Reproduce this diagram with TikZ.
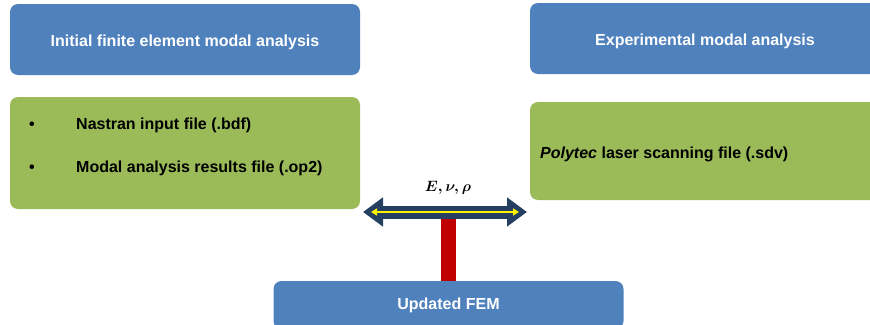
\documentclass[tikz,border=0pt]{standalone}
\usepackage{graphicx}
\usepackage{fontspec}
\setmainfont{Liberation Sans}
\usetikzlibrary{arrows.meta}
\definecolor{boxblue}{HTML}{4F81BD}
\definecolor{boxgreen}{HTML}{9BBB59}
\definecolor{barred}{HTML}{C00000}
\definecolor{arrownavy}{HTML}{243F60}
\begin{document}
\begin{tikzpicture}[x=1pt,y=-1pt,
  bigfont/.style={font=\bfseries\fontsize{16}{19}\selectfont},
  bluebox/.style={rounded corners=8pt, fill=boxblue, text=white, bigfont,
    minimum width=350pt, inner sep=0pt},
  headbox/.style={bluebox, minimum height=71pt, text height=13pt, text depth=0pt},
  greenbox/.style={rounded corners=8pt, fill=boxgreen, minimum width=350pt, inner sep=0pt},
  itemtext/.style={bigfont, anchor=west, inner sep=0pt}]
\useasboundingbox (0,0) rectangle (870,324);
\clip (0,0) rectangle (870,324);

% headers
\node[headbox] (fea) at (185,39.5) {Initial finite element modal analysis};
\node[headbox] (ema) at (705,38.5) {Experimental modal analysis};

% input boxes
\node[greenbox, minimum height=112pt] (feafiles) at (185,153) {};
\node[greenbox, minimum height=98pt] (emafiles) at (705,151) {};

\node[itemtext] (b1) at (29,126) {\textbullet};
\node[itemtext] (t1) at (76,125) {Nastran input file (.bdf)};
\node[itemtext] (b2) at (29,169) {\textbullet};
\node[itemtext] (t2) at (76,168) {Modal analysis results file (.op2)};
\node[itemtext] (t3) at (540,154) {\textit{Polytec} laser scanning file (.sdv)};

% result
\node[bluebox, minimum height=48pt] (fem) at (448.5,305) {Updated FEM};

% parameter exchange
\coordinate (L) at (363,212);
\coordinate (R) at (527,212);
\coordinate (Ly) at (371,212);
\coordinate (Ry) at (519,212);
\coordinate (J) at (448.5,217);
\node[inner sep=0pt] (params) at (448,188) {\scalebox{1.5}{\boldmath$E,\nu,\rho$}};

\draw[barred, line width=15pt] (J) -- (fem.north);
\draw[arrownavy, line width=13pt,
  {Triangle[length=20pt,width=28pt]}-{Triangle[length=20pt,width=28pt]}] (L) -- (R);
\draw[yellow, line width=2.2pt,
  {Triangle[length=6pt,width=7pt]}-{Triangle[length=6pt,width=7pt]}] (Ly) -- (Ry);
\end{tikzpicture}
\end{document}
